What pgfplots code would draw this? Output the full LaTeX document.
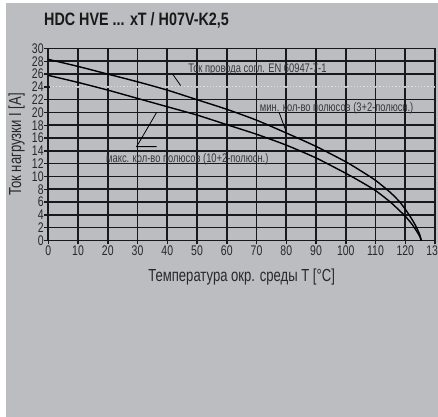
\documentclass[border=0pt]{standalone}
\usepackage{fontspec}
\setmainfont{Liberation Sans}[FakeStretch=0.75]
\newfontfamily\titlefont{Liberation Sans}[FakeStretch=0.8]
\usepackage{pgfplots}
\pgfplotsset{compat=1.18}
\definecolor{bggray}{RGB}{188,189,193}
\definecolor{gridc}{RGB}{25,25,25}
\definecolor{txt}{RGB}{40,40,40}
\definecolor{notec}{RGB}{55,55,58}
\definecolor{dotc}{RGB}{222,222,225}

\begin{document}
\begin{tikzpicture}
  % background and fixed page size (1px = 1bp)
  \fill[bggray] (5.5bp,0) rectangle (438bp,413.7bp);
  \useasboundingbox (0,0) rectangle (438bp,417bp);
  \node[anchor=base west, text=gridc, inner sep=0pt,
        font=\titlefont\bfseries\fontsize{18}{18}\selectfont]
        at (44bp,391.3bp) {HDC HVE ... xT / H07V-K2,5};

  \begin{axis}[
    scale only axis, width=386.7bp, height=192bp,
    at={(48.3bp,176.5bp)}, anchor=south west,
    xmin=0, xmax=130, ymin=0, ymax=30,
    xtick={0,10,...,130}, ytick={0,2,...,30},
    xmajorgrids=false, ymajorgrids=true,
    major grid style={line width=1.6bp, draw=gridc},
    axis line style={line width=1.7bp, draw=gridc},
    tick style={line width=1.5bp, draw=gridc},
    tick align=outside, major tick length=4bp, tick pos=left,
    /pgf/number format/assume math mode=true,
    ticklabel style={font=\fontsize{14}{14}\selectfont, text=txt},
    xticklabel style={inner sep=0.5bp, yshift=-0.5bp},
    yticklabel style={inner sep=0.5bp},
    xlabel={Температура окр. среды T [°C]},
    ylabel={Ток нагрузки I [A]},
    label style={font=\fontsize{17.5}{17.5}\selectfont, text=txt},
    xlabel style={at={(axis description cs:0.5,-0.19)}, anchor=center},
    ylabel style={at={(axis description cs:-0.0822,0.5)}, anchor=center},
  ]
    % vertical grid lines
    \pgfplotsinvokeforeach{10,20,...,130}{
      \draw[gridc, line width=1.8bp] (axis cs:#1,0) -- (axis cs:#1,30);
    }
    % reference current 24 A (dotted, replaces grid line)
    \draw[bggray, line width=2.2bp] (axis cs:0.5,24) -- (axis cs:130,24);
    \draw[dotc, line width=1.2bp, dash pattern=on 1.2bp off 2bp] (axis cs:0.5,24) -- (axis cs:130,24);

    % min. number of poles (3+2)
    \addplot[black, line width=1.4bp, smooth, tension=0.4] coordinates {
      (0,28.3) (10,27.2) (20,26.0) (30,24.8) (40,23.5) (50,22.0) (60,20.5)
      (70,18.8) (80,16.8) (90,14.7) (100,12.3) (105,10.9) (110,9.4) (115,7.5)
      (118,6.1) (120,4.9) (122,3.5) (123.5,2.3) (124.8,1.0) (125.4,0)};
    % max. number of poles (10+2)
    \addplot[black, line width=1.4bp, smooth, tension=0.4] coordinates {
      (0,25.8) (10,24.7) (20,23.5) (30,22.2) (40,20.9) (50,19.6) (60,18.1)
      (70,16.6) (80,14.9) (90,12.9) (100,10.5) (105,9.2) (110,7.8) (115,6.0)
      (118,4.7) (120,3.8) (122,2.7) (123.5,1.7) (124.8,0.7) (125.4,0)};

    % annotations
    \draw[black, line width=0.8bp] (axis cs:41.8,26) -- (axis cs:44.5,24.2);
    \node[anchor=base west, text=notec, inner sep=0pt, font=\fontsize{12.5}{12.5}\selectfont]
      at (axis cs:47,26.2) {Ток провода согл. EN 60947-7-1};
    \draw[black, line width=0.8bp] (axis cs:77.6,20) -- (axis cs:79.9,17.1);
    \node[anchor=base west, text=notec, inner sep=0pt, font=\fontsize{12.5}{12.5}\selectfont]
      at (axis cs:71.1,20.2) {мин. кол-во полюсов (3+2-полюсн.)};
    \draw[black, line width=0.8bp] (axis cs:36.4,20.0) -- (axis cs:29.7,14.67) -- (axis cs:36.4,14.67);
    \node[anchor=base west, text=notec, inner sep=0pt, font=\fontsize{12.5}{12.5}\selectfont]
      at (axis cs:19.4,12.2) {макс. кол-во полюсов (10+2-полюсн.)};
  \end{axis}
\end{tikzpicture}
\end{document}
